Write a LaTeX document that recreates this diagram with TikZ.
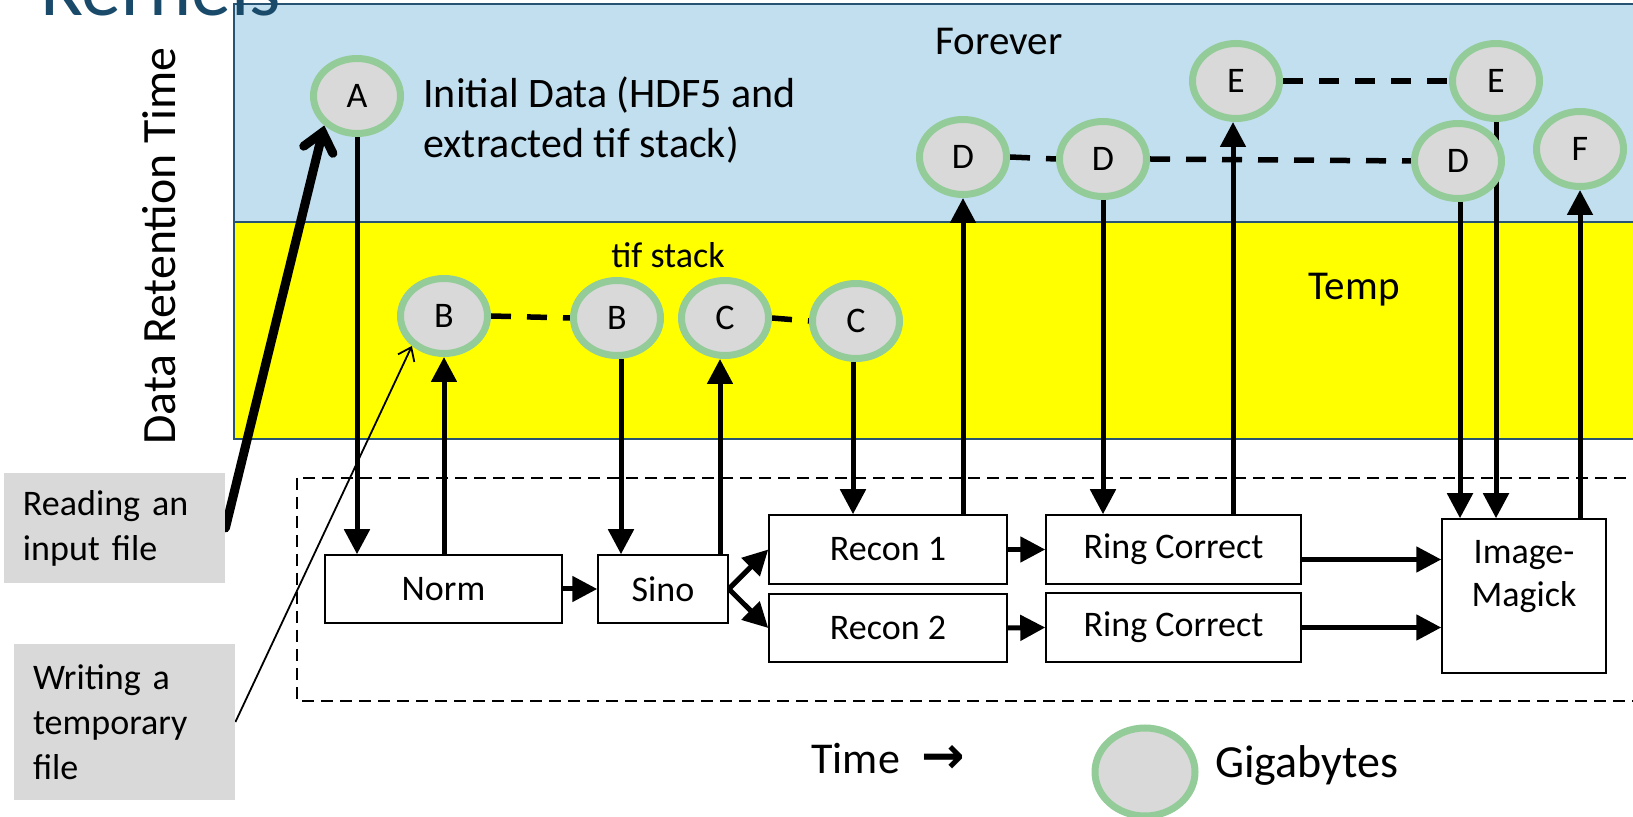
\documentclass[tikz,border=0pt]{standalone}
\usepackage{fontspec}
\setmainfont{Carlito}
\newfontfamily\symbolfont{DejaVu Sans}
\usetikzlibrary{arrows.meta,calc,shapes.geometric}

\definecolor{bandblue}{RGB}{193,223,239}
\definecolor{bandyellow}{RGB}{255,255,0}
\definecolor{bandedge}{RGB}{38,84,114}
\definecolor{titleblue}{RGB}{26,74,106}
\definecolor{ringgreen}{RGB}{147,204,152}
\definecolor{datagray}{RGB}{217,217,217}
\definecolor{notegray}{RGB}{217,217,217}

\pgfdeclarelayer{bands}
\pgfdeclarelayer{links}
\pgfsetlayers{bands,links,main}

\tikzset{
  data/.style={ellipse, draw=ringgreen, line width=3.5pt, fill=datagray,
    minimum width=43.5pt, minimum height=37.5pt, inner sep=0pt,
    font=\fontsize{18}{20}\selectfont},
  task/.style={rectangle, draw=black, line width=0.75pt, fill=white,
    inner sep=0pt, font=\fontsize{18}{21.5}\selectfont},
  flow/.style={line width=2.5pt, -{Triangle[length=12.5pt,width=12.5pt]}},
  keep/.style={line width=2.75pt, dash pattern=on 10pt off 8pt},
  note/.style={fill=notegray, inner xsep=9.5pt, inner ysep=0pt, align=left,
    font=\fontsize{18}{22.5}\selectfont},
  band label/.style={anchor=base, inner sep=0pt, font=\fontsize{20.5}{24}\selectfont},
  free text/.style={anchor=base west, inner sep=0pt},
}

\begin{document}
\begin{tikzpicture}[x=0.5pt, y=-0.5pt]
\useasboundingbox (0,0) rectangle (1633,817);

% retention bands and the workflow frame
\begin{pgfonlayer}{bands}
  \fill[bandblue] (234,4) rectangle (1660,222);
  \fill[bandyellow] (234,222) rectangle (1660,439);
  \draw[bandedge, line width=1pt] (1660,4) -- (234,4) -- (234,439) -- (1660,439)
    (234,222) -- (1660,222);
  \draw[black, line width=0.75pt, dash pattern=on 6pt off 3.5pt]
    (297,478) rectangle (1660,701);
\end{pgfonlayer}

% title and axis labels
\node[free text, text=titleblue, font=\fontsize{40}{44}\selectfont] (title) at (41,16) {Kernels};
\node[anchor=base, inner sep=0pt, rotate=90, font=\fontsize{23.9}{28}\selectfont] (axis) at (175,246) {Data Retention Time};
\node[band label] (forever) at (999,55) {Forever};
\node[band label] (temp) at (1354,300) {Temp};
\node[anchor=base, inner sep=0pt, font=\fontsize{18}{21}\selectfont] (tifstack) at (668,268) {tif stack};
\node[free text, align=left, font=\fontsize{21}{25}\selectfont] (initial) at (423,158)
  {Initial Data (HDF5 and\\extracted tif stack)};

% data sets
\node[data] (A)  at (357,96)  {A};
\node[data] (B1) at (444,316) {B};
\node[data] (B2) at (617,318) {B};
\node[data] (C1) at (725,318) {C};
\node[data] (C2) at (856,321) {C};
\node[data] (D1) at (963,157) {D};
\node[data] (D2) at (1103,159) {D};
\node[data] (D3) at (1458,161) {D};
\node[data] (E1) at (1236,81) {E};
\node[data] (E2) at (1496,81) {E};
\node[data] (F)  at (1580,149) {F};

% processing steps
\node[task, minimum width=118.5pt, minimum height=34pt] (Norm) at (443.5,589) {Norm};
\node[task, minimum width=65pt, minimum height=34pt] (Sino) at (663,589) {Sino};
\node[task, minimum width=119pt, minimum height=34.5pt] (Recon1) at (888,549.5) {Recon 1};
\node[task, minimum width=119pt, minimum height=34pt] (Recon2) at (888,628) {Recon 2};
\node[task, minimum width=127.5pt, minimum height=34.5pt] (RC1) at (1173.5,549.5) {Ring Correct};
\node[task, minimum width=127.5pt, minimum height=34.5pt] (RC2) at (1173.5,627.5) {Ring Correct};
\node[task, minimum width=82pt, minimum height=77pt] (IM) at (1524,596) {};
\node[anchor=base, inner sep=0pt, align=center, font=\fontsize{18}{21.5}\selectfont] (IMtext) at (1524,607)
  {Image-\\Magick};

% explanatory notes
\node[note, text width=91.5pt, minimum height=55pt] (Reading) at (114.5,528)
  {Reading an\\input file};
\node[note, text width=91.5pt, minimum height=78pt] (Writing) at (124.5,722)
  {Writing a\\temporary\\file};

% legend
\node[free text, font=\fontsize{22}{26}\selectfont] (time) at (811,773)
  {Time\hspace{0.5em}{\symbolfont\bfseries\fontsize{26}{28}\selectfont →}};
\node[data, minimum width=50pt, minimum height=44pt] (G) at (1145,772) {};
\node[free text, font=\fontsize{23}{27}\selectfont] (giga) at (1215,777) {Gigabytes};

% reads, writes and hand-offs
\begin{pgfonlayer}{links}
  \draw[line width=4.5pt, line cap=round,
    -{Straight Barb[length=9pt,width=15pt,line cap=round]}] (Reading.east) -- (A.222);
  \draw[line width=0.9pt, -{Straight Barb[length=6pt,width=9pt]}] (Writing.east) -- (B1.223);

  \draw[flow] (A.south) -- (A.south |- Norm.north);
  \draw[flow] (B1.south |- Norm.north) -- (B1.south);
  \draw[flow] (Norm.east) -- (Sino.west);
  \draw[flow] ([xshift=2pt]B2.south) -- ([xshift=2pt]B2.south |- Sino.north);
  \draw[flow] ([xshift=-2.5pt]C1.south |- Sino.north) -- ([xshift=-2.5pt]C1.south);
  \draw[flow] (Sino.east) -- (Recon1.west);
  \draw[flow] (Sino.east) -- (Recon2.west);
  \draw[flow] ([xshift=-1.5pt]C2.south) -- ([xshift=-1.5pt]C2.south |- Recon1.north);
  \draw[flow] (D1.south |- Recon1.north) -- (D1.south);
  \draw[flow] (Recon1.east) -- (RC1.west);
  \draw[flow] (Recon2.east) -- (RC2.west);
  \draw[flow] (D2.south) -- (D2.south |- RC1.north);
  \draw[flow] ([xshift=-1.5pt]E1.south |- RC1.north) -- ([xshift=-1.5pt]E1.south);
  \draw[flow] ([yshift=-5pt]RC1.east) -- ([yshift=-5pt]RC1.east -| IM.west);
  \draw[flow] (RC2.east) -- (RC2.east -| IM.west);
  \draw[flow] ([xshift=1pt]D3.south) -- ([xshift=1pt]D3.south |- IM.north);
  \draw[flow] (E2.south) -- (E2.south |- IM.north);
  \draw[flow] (F.south |- IM.north) -- (F.south);

  \draw[keep] (B1.east) -- (B2.west);
  \draw[keep] (C1.east) -- (C2.west);
  \draw[keep] (D1.east) -- (D2.west);
  \draw[keep] (D2.east) -- (D3.west);
  \draw[keep] (E1.east) -- (E2.west);
\end{pgfonlayer}
\end{tikzpicture}
\end{document}
